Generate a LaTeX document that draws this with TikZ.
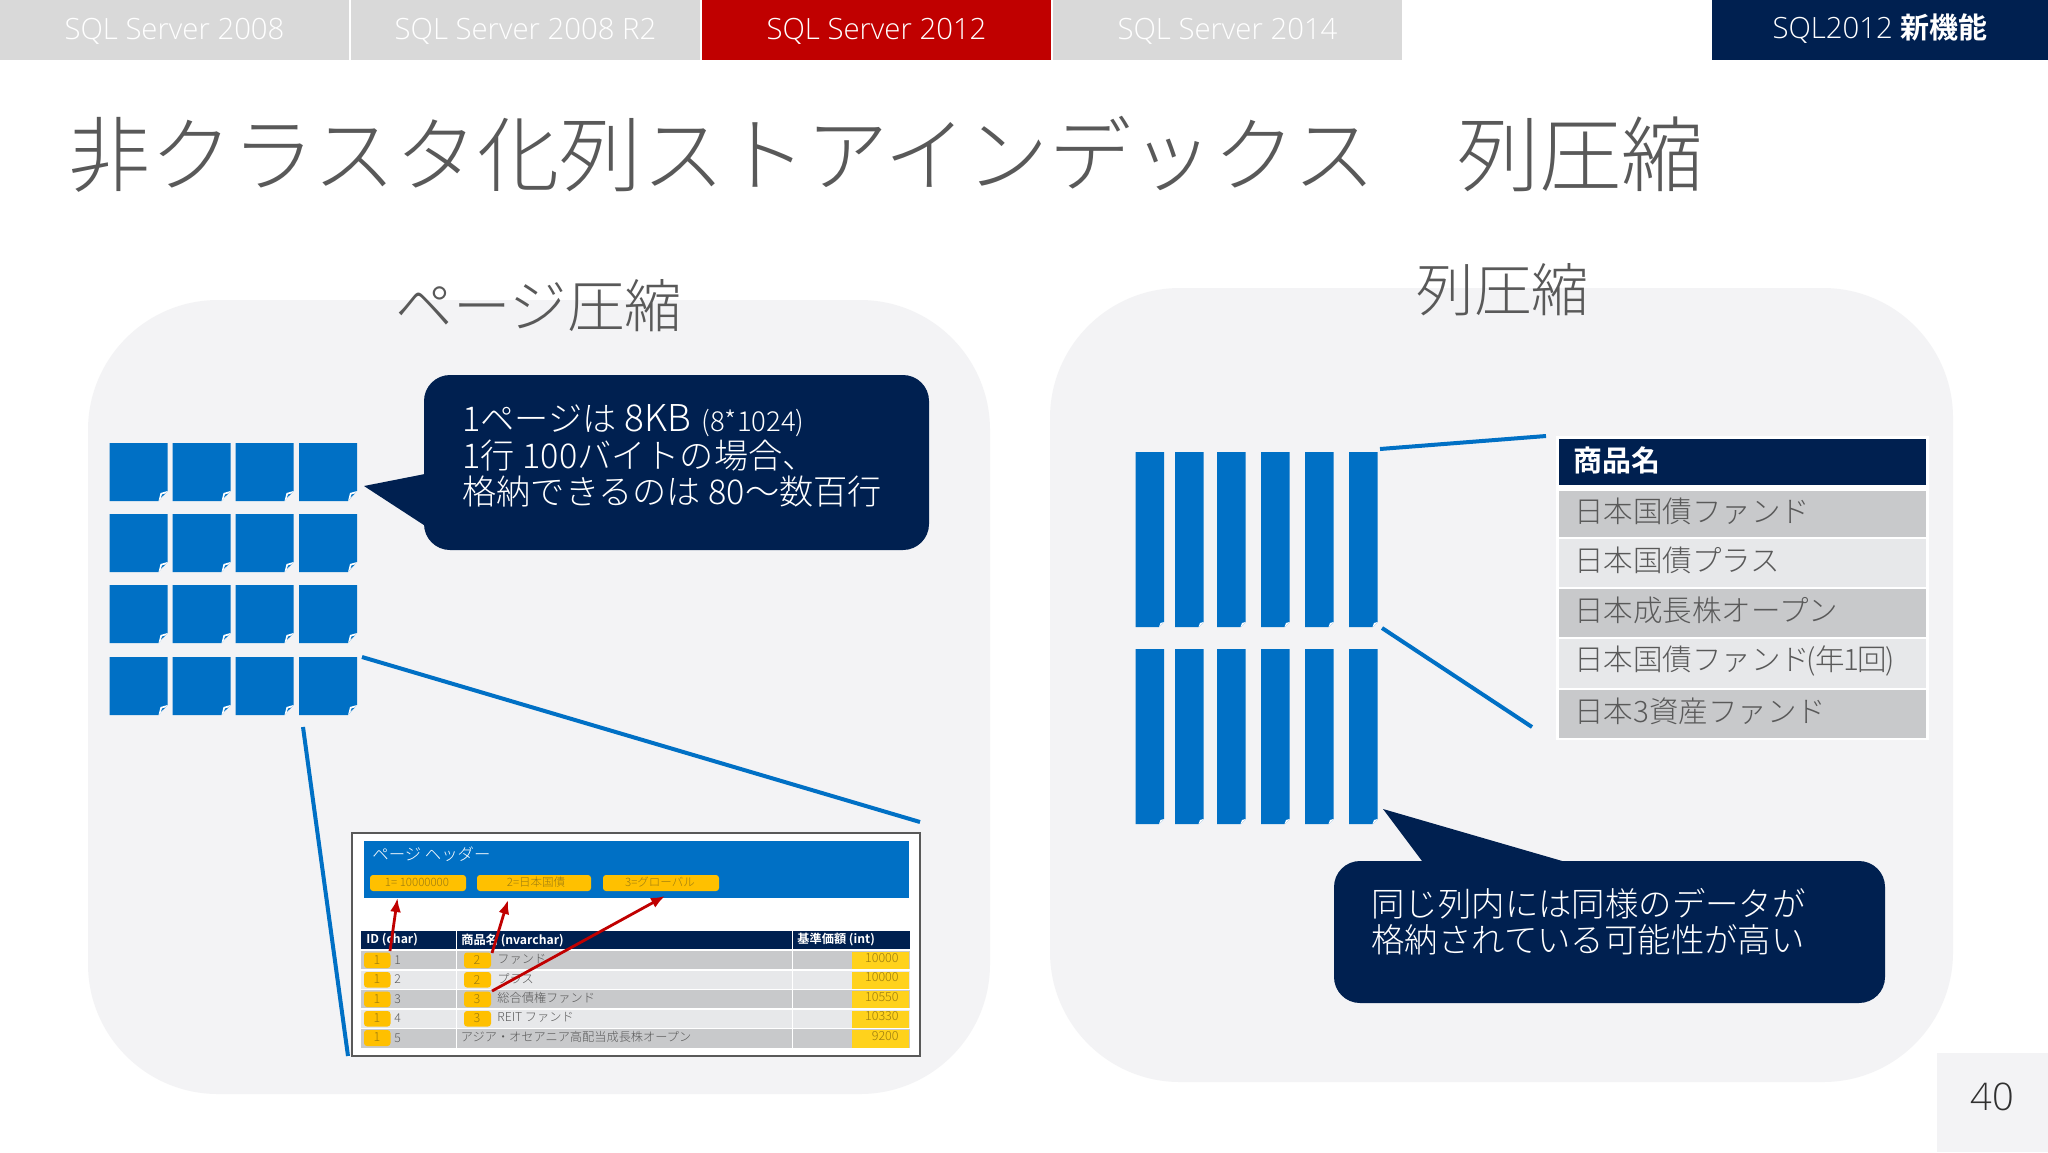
\documentclass[tikz,border=0pt]{standalone}
\usepackage{fontspec}
\setmainfont{Noto Sans CJK JP Light}
\newfontfamily\jpb{Noto Sans CJK JP Bold}
\newfontfamily\lat{Open Sans Light}
\newcommand{\px}[1]{\fontsize{\fpeval{#1*0.5}pt}{\fpeval{#1*0.55}pt}\selectfont}
\definecolor{tabgray}{HTML}{D9D9D9}
\definecolor{tabred}{HTML}{C00000}
\definecolor{navy}{HTML}{002050}
\definecolor{blue1}{HTML}{0070C5}
\definecolor{panel}{HTML}{F3F3F5}
\definecolor{txtgray}{HTML}{595959}
\definecolor{numgray}{HTML}{303030}
\definecolor{rowdark}{HTML}{C8C9CB}
\definecolor{rowlight}{HTML}{E7E8EA}
\definecolor{yel}{HTML}{FFC000}
\definecolor{yel2}{HTML}{FFD21C}
\definecolor{yeltxt}{HTML}{9A7A10}
\usetikzlibrary{arrows.meta}
\tikzset{
  x=0.5pt,y=-0.5pt,
  tabtext/.style={text=white,font=\lat\px{29.3},inner sep=0pt,anchor=center},
  heading/.style={text=txtgray,inner sep=0pt,anchor=center},
  link/.style={draw=blue1,line width=2pt,line cap=butt},
  redarrow/.style={draw=tabred,line width=1.4pt,-{Latex[length=7pt,width=5.5pt]}},
  calltext/.style={text=white,anchor=west,inner sep=0pt,align=left},
  rowtext/.style={text=txtgray,anchor=west,inner sep=0pt,font=\px{29.5}},
  mini/.style={text=txtgray,anchor=west,inner sep=0pt,font=\px{12.2}},
  minihead/.style={text=white,anchor=west,inner sep=0pt,font=\jpb\px{12.2}},
  mininum/.style={text=yeltxt,anchor=center,inner sep=0pt,font=\px{12.5}},
}
\newcommand{\pageicon}[2]{%
  \fill[blue1] (#1,#2) -- ++(58,0) -- ++(0,48) -- ++(-9,10) -- ++(-49,0) -- cycle;
  \fill[white] (#1+58,#2+48) -- (#1+51,#2+50) -- (#1+49,#2+58) -- cycle;
  \fill[blue1] (#1+56,#2+50.5) -- (#1+52.5,#2+51.5) -- (#1+51.5,#2+54.5) -- cycle;
}
\newcommand{\colicon}[2]{%
  \fill[blue1] (#1,#2) -- ++(28.5,0) -- ++(0,170) -- ++(-5,5) -- ++(-23.5,0) -- cycle;
  \fill[white] (#1+28.5,#2+170) -- (#1+25,#2+171) -- (#1+23.5,#2+175) -- cycle;
}
\begin{document}
\begin{tikzpicture}
\useasboundingbox (0,0) rectangle (2048,1152);
\fill[white] (0,0) rectangle (2048,1152);
% top tabs
\foreach \a/\b/\c/\t/\n in {0/349/tabgray/SQL Server 2008/t1,351/700/tabgray/SQL Server 2008 R2/t2,702/1051/tabred/SQL Server 2012/t3,1053/1402/tabgray/SQL Server 2014/t4}{
  \fill[\c] (\a,0) rectangle (\b,60);
  \node[tabtext] (\n) at ({(\a+\b)/2},31) {\t};
}
\fill[navy] (1712,0) rectangle (2048,60);
\node[tabtext] (tn) at (1880,29) {SQL2012 {\jpb\px{29}新機能}};
% title
\node[heading,anchor=west,font=\px{82.2}] (title) at (68,154) {非クラスタ化列ストアインデックス　列圧縮};
% panels
\fill[panel,rounded corners=65pt] (88,300) rectangle (990,1094);
\fill[panel,rounded corners=65pt] (1050,288) rectangle (1953,1082);
\node[heading,font=\px{57.5}] (h1) at (539,306) {ページ圧縮};
\node[heading,font=\px{57.5}] (h2) at (1503,290) {列圧縮};
% page icons
\foreach \x in {109.5,172.5,235.5,299}{\foreach \y in {443,514,585,657}{\pageicon{\x}{\y}}}
% column icons
\foreach \x in {1135.5,1175,1217,1261,1305,1349}{\foreach \y in {452,649}{\colicon{\x}{\y}}}
% connectors
\coordinate (l1a) at (362,657); \coordinate (l1b) at (920,822);
\coordinate (l2a) at (303,727); \coordinate (l2b) at (348,1056);
\coordinate (l3a) at (1380,449); \coordinate (l3b) at (1546,436);
\coordinate (l4a) at (1382,628); \coordinate (l4b) at (1532,727);
\draw[link] (l1a) -- (l1b);
\draw[link] (l2a) -- (l2b);
\draw[link] (l3a) -- (l3b);
\draw[link] (l4a) -- (l4b);
% callout 1
\fill[navy] (364,486) -- (430,473) -- (430,529) -- cycle;
\fill[navy,rounded corners=13pt] (424,375) rectangle (929,550);
\node[calltext,font=\px{34.2}] (c1a) at (462,421) {1ページは {\px{37}8KB} \kern1.5pt{\px{27.5}(8*1024)}};
\node[calltext,font=\px{34.2}] (c1b) at (462,456) {1行 100バイトの場合、};
\node[calltext,font=\px{34.2}] (c1c) at (462,492) {格納できるのは 80～数百行};
% callout 2
\fill[navy] (1383,809) -- (1576,865) -- (1425,865) -- cycle;
\fill[navy,rounded corners=13pt] (1334,861) rectangle (1885,1003);
\node[calltext,font=\px{33.4}] (c2a) at (1371,904) {同じ列内には同様のデータが};
\node[calltext,font=\px{33.4}] (c2b) at (1371,940) {格納されている可能性が高い};
% right table
\fill[white] (1556,436) rectangle (1929,740);
\fill[navy] (1559,439) rectangle (1926,484.7);
\node[rowtext,text=white,font=\jpb\px{29}] (rh) at (1573,460) {商品名};
\foreach \a/\b/\c/\t/\n in {491/537/rowdark/日本国債ファンド/r1,539.3/587/rowlight/日本国債プラス/r2,589.3/637.3/rowdark/日本成長株オープン/r3,639.3/687.7/rowlight/日本国債ファンド\kern-2pt(年\kern-1pt 1\kern-1pt 回\kern-0.5pt)/r4,690/737.7/rowdark/日本3資産ファンド/r5}{
  \fill[\c] (1559,\a) rectangle (1926,\b);
  \node[rowtext] (\n) at (1574,{(\a+\b)/2-3}) {\t};
}
% inset
\fill[white,draw=txtgray,line width=1pt] (352,833) rectangle (920,1056);
\fill[blue1] (364,841) rectangle (909,898);
\node[mini,text=white,font=\px{16.4}] (ph) at (372,854) {ページ ヘッダー};
\fill[yel,rounded corners=1.5pt] (370,875) rectangle (466,891);
\fill[yel,rounded corners=1.5pt] (477,875) rectangle (591,891);
\fill[yel,rounded corners=1.5pt] (603,875) rectangle (719,891);
\node[mininum,font=\px{11.5}] (y1) at (417,882) {1= 10000000};
\node[mininum,font=\px{11.5}] (y2) at (536,882) {2=日本国債};
\node[mininum,font=\px{11.5}] (y3) at (660,882) {3=グローバル};
\fill[navy] (361,931) rectangle (910,949);
\draw[white,line width=0.4pt] (456,931) -- (456,949) (792,931) -- (792,949);
\node[minihead] (ih1) at (366,940) {ID (char)};
\node[minihead] (ih2) at (461,940) {商品名 (nvarchar)};
\node[minihead] (ih3) at (797,940) {基準価額 (int)};
\foreach \i/\a/\b/\c/\num/\txt/\val in {1/951/969/rowdark/2/ファンド/10000,2/970.5/988.5/rowlight/2/プラス/10000,3/990/1008/rowdark/3/総合債権ファンド/10550,4/1009.5/1027.5/rowlight/3/REIT ファンド/10330}{
  \fill[\c] (361,\a) rectangle (910,\b);
  \fill[yel,rounded corners=1.5pt] (364,\a+1.5) rectangle (390.5,\b-1);
  \fill[yel,rounded corners=1.5pt] (464,\a+1.5) rectangle (491,\b-1);
  \fill[yel2] (852,\a+1) rectangle (909,\b);
  \node[mininum] (a\i) at (377,{(\a+\b)/2}) {1};
  \node[mini] (b\i) at (394,{(\a+\b)/2}) {\i};
  \node[mininum] (d\i) at (477,{(\a+\b)/2}) {\num};
  \node[mini] (e\i) at (497,{(\a+\b)/2-1}) {\txt};
  \node[mininum,anchor=east] (f\i) at (899,{(\a+\b)/2-2}) {\val};
}
\fill[rowdark] (361,1029) rectangle (910,1047.5);
\fill[yel,rounded corners=1.5pt] (364,1030) rectangle (390.5,1046);
\fill[yel2] (852,1030) rectangle (909,1047.5);
\node[mininum] (a5) at (377,1037.5) {1};
\node[mini] (b5) at (394,1038) {5};
\node[mini] (e5) at (460.5,1037) {アジア・オセアニア高配当成長株オープン};
\node[mininum,anchor=east] (f5) at (899,1036) {9200};
\draw[white,line width=0.4pt] (456,951) -- (456,1047.5) (792,951) -- (792,1047.5);
% red arrows
\coordinate (ra1) at (390,951); \coordinate (rb1) at (397.5,898);
\coordinate (ra2) at (492,953); \coordinate (rb2) at (508,900);
\coordinate (ra3) at (492,991); \coordinate (rb3) at (665,896);
\draw[redarrow] (ra1) -- (rb1);
\draw[redarrow] (ra2) -- (rb2);
\draw[redarrow] (ra3) -- (rb3);
% page number
\fill[panel] (1937,1053) rectangle (2048,1152);
\node[heading,text=numgray,font=\lat\px{38}] (pn) at (1992,1097) {40};
\end{tikzpicture}
\end{document}
